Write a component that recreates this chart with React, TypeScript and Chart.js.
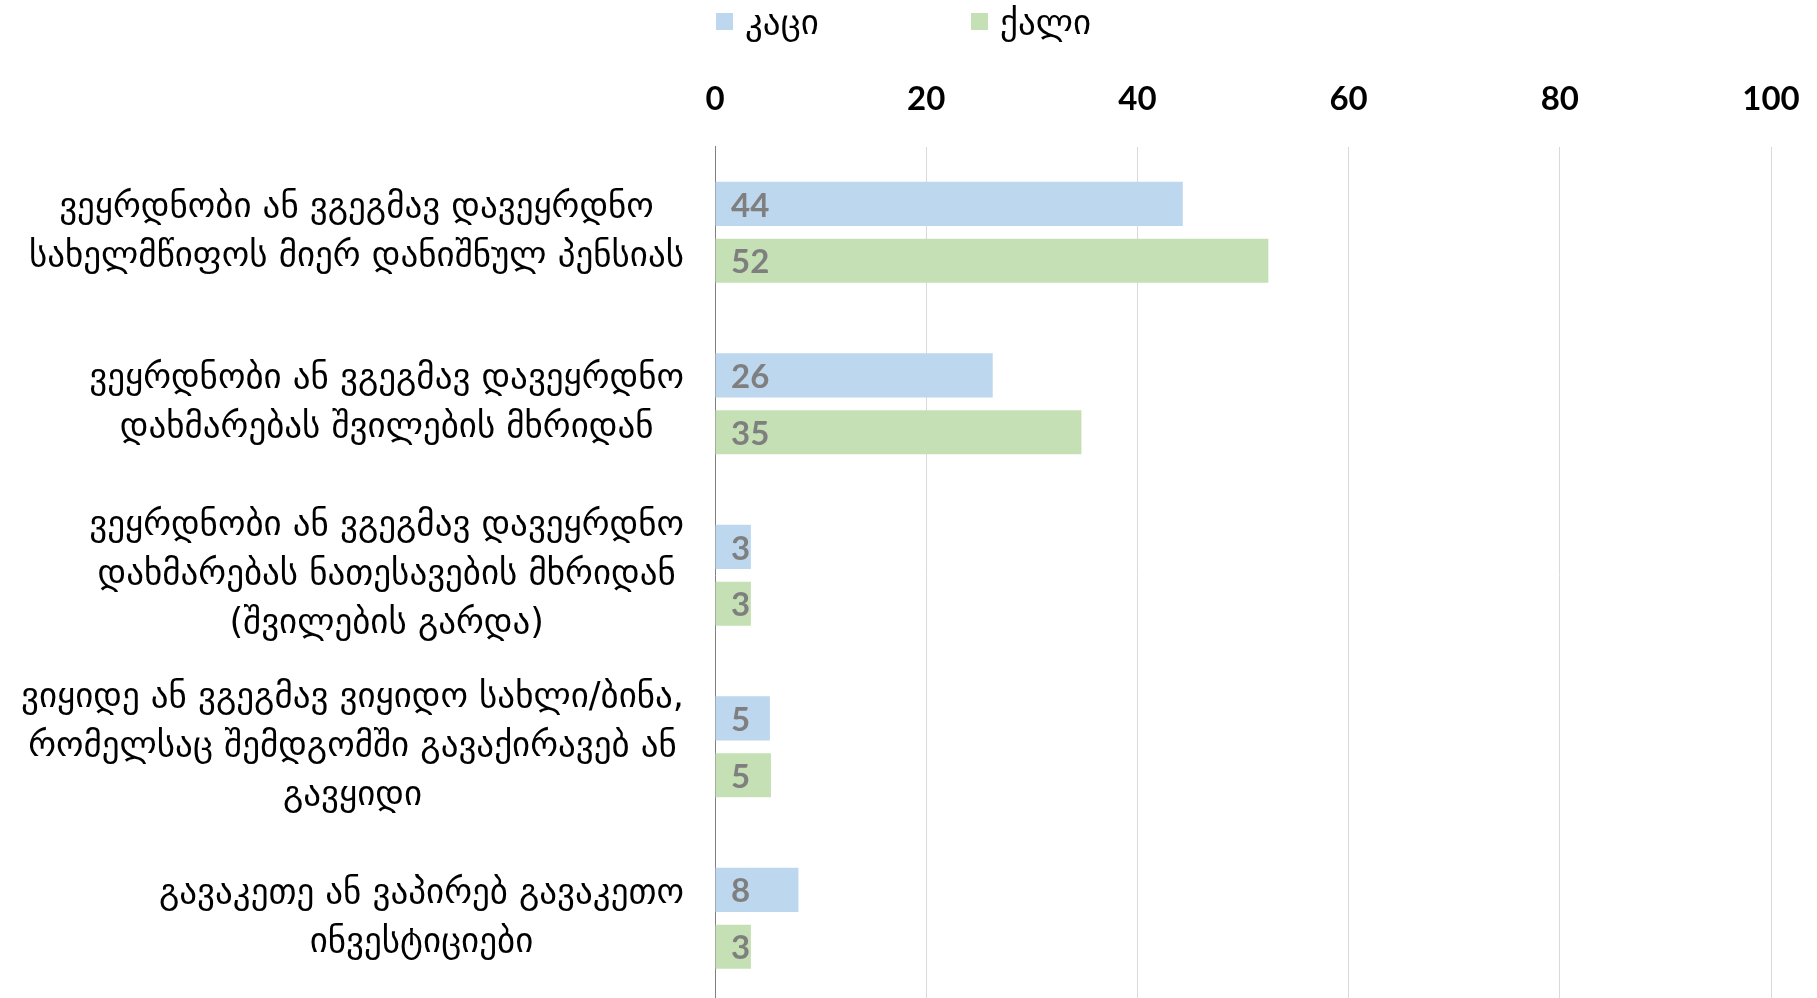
import React, { useEffect, useRef } from "react";
import { Chart, registerables } from "chart.js";

Chart.register(...registerables);

const categories: string[][] = [
  ["ვეყრდნობი ან ვგეგმავ დავეყრდნო", "სახელმწიფოს მიერ დანიშნულ პენსიას"],
  ["ვეყრდნობი ან ვგეგმავ დავეყრდნო", "დახმარებას შვილების მხრიდან"],
  ["ვეყრდნობი ან ვგეგმავ დავეყრდნო", "დახმარებას ნათესავების მხრიდან", "(შვილების გარდა)"],
  ["ვიყიდე ან ვგეგმავ ვიყიდო სახლი/ბინა,", "რომელსაც შემდგომში გავაქირავებ ან", "გავყიდი"],
  ["გავაკეთე ან ვაპირებ გავაკეთო", "ინვესტიციები"],
];

const seriesNames = ["კაცი", "ქალი"];
const menValues = [44.3, 26.3, 3.4, 5.2, 7.9];
const womenValues = [52.4, 34.7, 3.4, 5.3, 3.4];
const xTicks = [0, 20, 40, 60, 80, 100];

const BLUE = "#BDD7EE";
const GREEN = "#C5E0B4";
const GEO_FONT = "'DejaVu Sans'";
const NUM_FONT = "Lato";
const Y_FONT_SIZE = 35;
const Y_LINE_H = 49;

const yLabelPlugin = {
  id: "yLabels",
  afterDraw(chart: any) {
    const { ctx, chartArea } = chart;
    const yScale = chart.scales.y;
    ctx.save();
    ctx.font = `${Y_FONT_SIZE}px ${GEO_FONT}`;
    ctx.fillStyle = "#000";
    ctx.textAlign = "center";
    ctx.textBaseline = "middle";
    categories.forEach((lines, i) => {
      const cy = yScale.getPixelForTick(i);
      const w = Math.max(...lines.map((l) => ctx.measureText(l).width));
      const cx = chartArea.left - 31 - w / 2;
      lines.forEach((l, j) => {
        ctx.fillText(l, cx, cy + (j - (lines.length - 1) / 2) * Y_LINE_H);
      });
    });
    ctx.restore();
  },
};

const dataLabelPlugin = {
  id: "dataLabels",
  afterDatasetsDraw(chart: any) {
    const { ctx, chartArea } = chart;
    ctx.save();
    ctx.font = `bold 33px ${NUM_FONT}`;
    ctx.fillStyle = "#7F7F7F";
    ctx.textAlign = "left";
    ctx.textBaseline = "middle";
    chart.data.datasets.forEach((ds: any, di: number) => {
      const meta = chart.getDatasetMeta(di);
      meta.data.forEach((bar: any, i: number) => {
        ctx.fillText(String(Math.round(ds.data[i])), chartArea.left + 16, bar.y + 2);
      });
    });
    ctx.restore();
  },
};

const legendPlugin = {
  id: "customLegend",
  afterDraw(chart: any) {
    const { ctx, chartArea } = chart;
    ctx.save();
    ctx.font = `${Y_FONT_SIZE}px ${GEO_FONT}`;
    ctx.textAlign = "left";
    ctx.textBaseline = "middle";
    chart.data.datasets.forEach((ds: any, i: number) => {
      const x = chartArea.left + 1 + i * 255;
      ctx.fillStyle = ds.backgroundColor;
      ctx.fillRect(x, 13, 17, 17);
      ctx.fillStyle = "#000";
      ctx.fillText(ds.label, x + 29, 25);
    });
    ctx.restore();
  },
};

export default function App() {
  const ref = useRef<HTMLCanvasElement>(null);
  useEffect(() => {
    const chart = new Chart(ref.current!, {
      type: "bar",
      data: {
        labels: categories,
        datasets: [
          { label: seriesNames[0], data: menValues, backgroundColor: BLUE },
          { label: seriesNames[1], data: womenValues, backgroundColor: GREEN },
        ],
      },
      options: {
        indexAxis: "y",
        animation: false,
        responsive: false,
        maintainAspectRatio: false,
        categoryPercentage: 0.663,
        barPercentage: 0.776,
        layout: { padding: { left: 707, top: 53, right: 46, bottom: 0 } },
        plugins: { legend: { display: false }, tooltip: { enabled: false } },
        scales: {
          x: {
            position: "top",
            min: 0,
            max: 100,
            afterBuildTicks: (scale: any) => {
              scale.ticks = xTicks.map((v) => ({ value: v }));
            },
            afterFit: (scale: any) => {
              scale.paddingRight = 0;
              scale.paddingLeft = 0;
            },
            ticks: {
              font: { family: NUM_FONT, size: 33, weight: "bold" },
              color: "#000",
              padding: 27,
            },
            grid: { color: "#D9D9D9", lineWidth: 1, drawTicks: false },
            border: { display: false },
          },
          y: {
            ticks: { display: false },
            grid: { display: false },
            border: { display: true, color: "#7F7F7F", width: 1 },
          },
        },
      },
      plugins: [yLabelPlugin, dataLabelPlugin, legendPlugin],
    });
    return () => chart.destroy();
  }, []);
  return (
    <div style={{ position: "fixed", left: 0, top: 0, width: 1817, height: 998, overflow: "hidden", background: "#fff" }}>
      <canvas ref={ref} width={1817} height={1004} style={{ display: "block" }} />
    </div>
  );
}
